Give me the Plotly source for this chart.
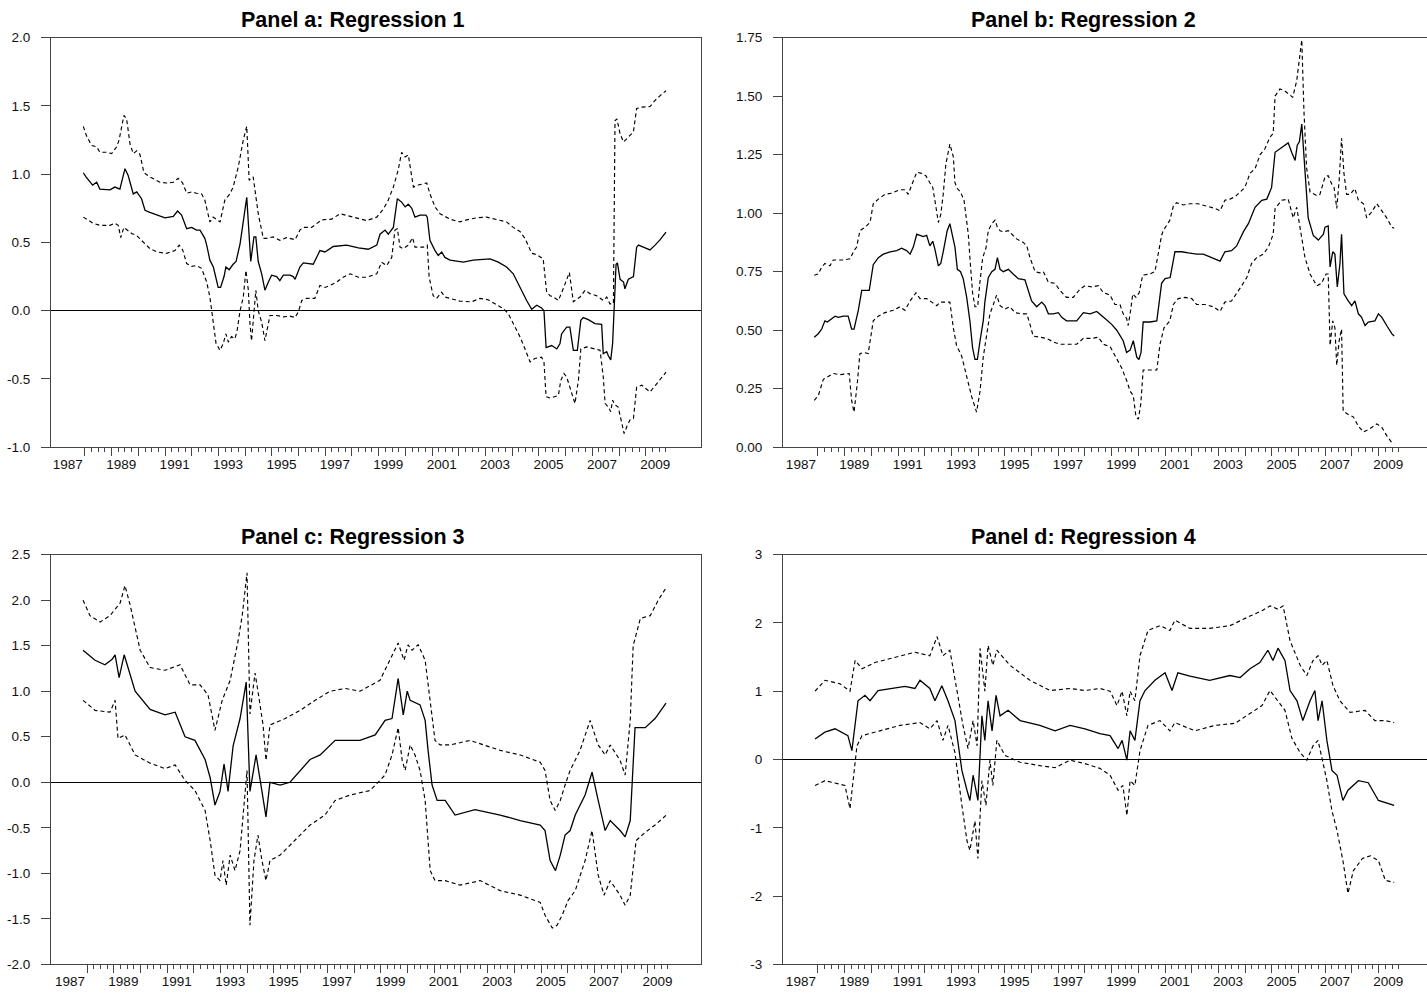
import plotly.graph_objects as go

# ---------------- data (decimal years, coefficient values) ----------------
# Panel a: Regression 1
a_mid_t = [1987.94, 1988.04, 1988.29, 1988.44, 1988.56, 1988.75, 1988.94, 1989.12, 1989.31, 1989.50, 1989.62,
           1989.81, 1989.94, 1990.12, 1990.25, 1990.43, 1990.69, 1991.00, 1991.31, 1991.47, 1991.62, 1991.81,
           1992.00, 1992.18, 1992.31, 1992.49, 1992.56, 1992.68, 1992.81, 1992.99, 1993.08, 1993.21, 1993.28,
           1993.40, 1993.55, 1993.66, 1993.81, 1994.06, 1994.21, 1994.33, 1994.40, 1994.49, 1994.62, 1994.74,
           1994.87, 1994.99, 1995.18, 1995.30, 1995.43, 1995.68, 1995.80, 1995.87, 1996.05, 1996.18, 1996.55,
           1996.80, 1996.99, 1997.30, 1997.80, 1998.24, 1998.61, 1998.93, 1999.05, 1999.24, 1999.36, 1999.55,
           1999.70, 1999.86, 1999.99, 2000.11, 2000.24, 2000.36, 2000.55, 2000.77, 2000.82, 2000.92, 2001.11,
           2001.23, 2001.36, 2001.48, 2001.67, 2002.17, 2002.54, 2003.17, 2003.48, 2003.79, 2004.04, 2004.29,
           2004.54, 2004.73, 2004.92, 2005.10, 2005.19, 2005.27, 2005.48, 2005.67, 2005.79, 2005.85, 2005.94,
           2006.04, 2006.16, 2006.29, 2006.44, 2006.51, 2006.57, 2006.66, 2006.85, 2007.10, 2007.35, 2007.41,
           2007.54, 2007.60, 2007.69, 2007.76, 2007.81, 2007.89, 2007.94, 2008.04, 2008.17, 2008.22, 2008.35,
           2008.54, 2008.66, 2008.73, 2008.91, 2009.16, 2009.35, 2009.54, 2009.76]
a_mid_v = [1.01, 0.98, 0.92, 0.94, 0.89, 0.89, 0.885, 0.905, 0.89, 1.04, 0.99,
           0.855, 0.87, 0.82, 0.735, 0.72, 0.70, 0.68, 0.69, 0.73, 0.70, 0.60,
           0.61, 0.59, 0.59, 0.53, 0.48, 0.37, 0.32, 0.17, 0.17, 0.25, 0.32,
           0.30, 0.34, 0.36, 0.49, 0.83, 0.36, 0.54, 0.54, 0.36, 0.27, 0.15,
           0.21, 0.26, 0.25, 0.22, 0.26, 0.26, 0.25, 0.23, 0.32, 0.35, 0.34,
           0.44, 0.43, 0.47, 0.48, 0.46, 0.45, 0.48, 0.56, 0.59, 0.56, 0.61,
           0.82, 0.795, 0.76, 0.78, 0.75, 0.685, 0.70, 0.70, 0.685, 0.515, 0.44,
           0.405, 0.43, 0.39, 0.37, 0.355, 0.37, 0.38, 0.355, 0.32, 0.27, 0.17,
           0.075, 0.01, 0.04, 0.02, 0.0, -0.27, -0.255, -0.28, -0.24, -0.17, -0.145,
           -0.12, -0.12, -0.29, -0.29, -0.145, -0.07, -0.05, -0.065, -0.095, -0.10, -0.315,
           -0.30, -0.33, -0.36, -0.24, 0.0, 0.34, 0.35, 0.23, 0.21, 0.16, 0.23,
           0.25, 0.465, 0.48, 0.465, 0.445, 0.48, 0.52, 0.575]
a_up_t = [1987.94, 1988.06, 1988.25, 1988.44, 1988.56, 1988.79, 1989.00, 1989.19, 1989.28, 1989.46, 1989.56,
          1989.69, 1989.81, 1989.94, 1990.06, 1990.21, 1990.43, 1990.81, 1991.06, 1991.31, 1991.49, 1991.66,
          1991.81, 1992.00, 1992.18, 1992.37, 1992.49, 1992.68, 1992.80, 1993.06, 1993.24, 1993.43, 1993.55,
          1993.74, 1993.93, 1994.06, 1994.15, 1994.30, 1994.49, 1994.68, 1994.81, 1995.05, 1995.30, 1995.55,
          1995.87, 1996.05, 1996.18, 1996.49, 1996.86, 1997.24, 1997.55, 1998.05, 1998.55, 1998.93, 1999.18,
          1999.36, 1999.55, 1999.73, 1999.86, 1999.99, 2000.11, 2000.30, 2000.48, 2000.80, 2000.92, 2001.11,
          2001.30, 2001.67, 2002.04, 2002.30, 2002.67, 2003.04, 2003.42, 2003.79, 2004.04, 2004.29, 2004.48,
          2004.73, 2004.92, 2005.16, 2005.29, 2005.42, 2005.54, 2005.73, 2005.91, 2006.14, 2006.29, 2006.54,
          2006.73, 2006.91, 2007.16, 2007.41, 2007.54, 2007.66, 2007.79, 2007.85, 2007.92, 2008.04, 2008.17,
          2008.41, 2008.54, 2008.66, 2008.85, 2009.16, 2009.35, 2009.54, 2009.76]
a_up_v = [1.35, 1.28, 1.21, 1.20, 1.16, 1.16, 1.15, 1.20, 1.25, 1.43, 1.405,
          1.22, 1.15, 1.17, 1.145, 1.01, 0.98, 0.94, 0.935, 0.94, 0.97, 0.935,
          0.86, 0.87, 0.86, 0.855, 0.81, 0.65, 0.685, 0.65, 0.81, 0.855, 0.905,
          1.05, 1.25, 1.35, 0.955, 0.98, 0.71, 0.53, 0.53, 0.54, 0.515, 0.535,
          0.52, 0.59, 0.61, 0.61, 0.665, 0.67, 0.71, 0.685, 0.66, 0.685, 0.745,
          0.81, 0.905, 1.03, 1.16, 1.125, 1.14, 0.905, 0.92, 0.935, 0.855, 0.76,
          0.71, 0.67, 0.65, 0.665, 0.68, 0.685, 0.67, 0.65, 0.61, 0.58, 0.53,
          0.42, 0.41, 0.38, 0.135, 0.11, 0.10, 0.075, 0.16, 0.28, 0.065, 0.10,
          0.15, 0.125, 0.11, 0.075, 0.10, 0.05, 0.05, 1.39, 1.405, 1.295, 1.235,
          1.28, 1.31, 1.48, 1.49, 1.495, 1.54, 1.575, 1.61]
a_lo_t = [1987.94, 1988.12, 1988.31, 1988.56, 1988.94, 1989.12, 1989.25, 1989.34, 1989.46, 1989.75, 1989.94,
          1990.12, 1990.43, 1990.69, 1991.06, 1991.37, 1991.53, 1991.66, 1991.81, 1992.00, 1992.18, 1992.37,
          1992.56, 1992.68, 1992.80, 1992.91, 1993.06, 1993.18, 1993.28, 1993.37, 1993.49, 1993.62, 1993.70,
          1993.81, 1993.93, 1994.03, 1994.12, 1994.18, 1994.24, 1994.33, 1994.40, 1994.49, 1994.62, 1994.74,
          1994.81, 1994.93, 1995.18, 1995.43, 1995.68, 1995.87, 1995.99, 1996.12, 1996.30, 1996.61, 1996.80,
          1996.99, 1997.18, 1997.43, 1997.67, 1997.93, 1998.24, 1998.55, 1998.93, 1999.11, 1999.30, 1999.49,
          1999.61, 1999.70, 1999.80, 1999.92, 2000.11, 2000.27, 2000.36, 2000.67, 2000.82, 2000.89, 2001.04,
          2001.17, 2001.36, 2001.48, 2001.67, 2002.04, 2002.48, 2002.79, 2003.10, 2003.42, 2003.67, 2003.85,
          2004.04, 2004.29, 2004.48, 2004.67, 2004.85, 2005.10, 2005.19, 2005.27, 2005.42, 2005.60, 2005.73,
          2005.82, 2005.94, 2006.04, 2006.16, 2006.35, 2006.48, 2006.57, 2006.79, 2007.04, 2007.29, 2007.41,
          2007.48, 2007.60, 2007.69, 2007.76, 2007.85, 2007.97, 2008.10, 2008.19, 2008.29, 2008.41, 2008.54,
          2008.66, 2008.85, 2009.16, 2009.41, 2009.76]
a_lo_v = [0.685, 0.66, 0.64, 0.625, 0.625, 0.64, 0.625, 0.535, 0.61, 0.565, 0.55,
          0.515, 0.455, 0.43, 0.42, 0.44, 0.48, 0.445, 0.345, 0.325, 0.33, 0.31,
          0.21, 0.10, -0.06, -0.24, -0.29, -0.24, -0.17, -0.23, -0.19, -0.205, -0.145,
          0.0, 0.10, 0.295, 0.15, -0.095, -0.22, 0.025, 0.15, 0.0, -0.085, -0.22,
          -0.145, -0.035, -0.035, -0.045, -0.04, -0.05, -0.01, 0.075, 0.09, 0.09, 0.185,
          0.17, 0.185, 0.21, 0.245, 0.27, 0.245, 0.245, 0.27, 0.355, 0.33, 0.39,
          0.59, 0.60, 0.465, 0.455, 0.48, 0.535, 0.465, 0.465, 0.48, 0.245, 0.11,
          0.09, 0.135, 0.10, 0.09, 0.07, 0.065, 0.09, 0.08, 0.04, 0.015, -0.02,
          -0.095, -0.19, -0.28, -0.375, -0.35, -0.34, -0.375, -0.63, -0.64, -0.63, -0.62,
          -0.51, -0.46, -0.485, -0.56, -0.68, -0.51, -0.28, -0.265, -0.28, -0.29, -0.485,
          -0.68, -0.705, -0.74, -0.655, -0.69, -0.705, -0.815, -0.90, -0.85, -0.80, -0.79,
          -0.56, -0.545, -0.595, -0.535, -0.45]

# Panel b: Regression 2
b_mid_t = [1987.86, 1988.01, 1988.14, 1988.26, 1988.35, 1988.51, 1988.64, 1988.76, 1988.95, 1989.13, 1989.26,
           1989.35, 1989.51, 1989.64, 1989.76, 1989.92, 1990.07, 1990.26, 1990.45, 1990.70, 1990.95, 1991.13,
           1991.32, 1991.45, 1991.57, 1991.70, 1991.82, 1991.94, 1992.07, 1992.19, 1992.30, 1992.38, 1992.51,
           1992.60, 1992.69, 1992.84, 1992.94, 1993.13, 1993.22, 1993.34, 1993.44, 1993.57, 1993.69, 1993.79,
           1993.88, 1993.97, 1994.07, 1994.19, 1994.25, 1994.38, 1994.51, 1994.63, 1994.72, 1994.82, 1994.94,
           1995.13, 1995.31, 1995.50, 1995.75, 1995.88, 1996.00, 1996.19, 1996.38, 1996.50, 1996.63, 1996.81,
           1997.00, 1997.13, 1997.31, 1997.69, 1997.94, 1998.19, 1998.44, 1998.75, 1999.00, 1999.19, 1999.43,
           1999.56, 1999.69, 1999.81, 1999.94, 2000.02, 2000.10, 2000.18, 2000.43, 2000.69, 2000.87, 2001.00,
           2001.19, 2001.37, 2001.62, 2001.87, 2002.18, 2002.43, 2002.75, 2003.06, 2003.24, 2003.49, 2003.68,
           2003.93, 2004.12, 2004.37, 2004.62, 2004.81, 2004.99, 2005.12, 2005.37, 2005.49, 2005.61, 2005.74,
           2005.87, 2005.95, 2006.03, 2006.12, 2006.24, 2006.36, 2006.55, 2006.74, 2006.93, 2006.99, 2007.11,
           2007.18, 2007.28, 2007.36, 2007.45, 2007.55, 2007.61, 2007.70, 2007.86, 2007.99, 2008.11, 2008.24,
           2008.36, 2008.49, 2008.61, 2008.86, 2008.99, 2009.12, 2009.30, 2009.49, 2009.58]
b_mid_v = [0.47, 0.485, 0.505, 0.54, 0.535, 0.55, 0.56, 0.555, 0.56, 0.56, 0.505,
           0.505, 0.585, 0.67, 0.67, 0.67, 0.78, 0.81, 0.825, 0.835, 0.84, 0.85,
           0.84, 0.825, 0.855, 0.91, 0.905, 0.90, 0.905, 0.86, 0.88, 0.845, 0.775,
           0.785, 0.835, 0.925, 0.955, 0.855, 0.76, 0.75, 0.72, 0.64, 0.54, 0.425,
           0.375, 0.375, 0.455, 0.54, 0.62, 0.725, 0.75, 0.76, 0.81, 0.76, 0.75,
           0.76, 0.74, 0.72, 0.715, 0.67, 0.625, 0.60, 0.62, 0.605, 0.57, 0.57,
           0.575, 0.555, 0.54, 0.54, 0.575, 0.57, 0.58, 0.55, 0.525, 0.50, 0.455,
           0.405, 0.415, 0.455, 0.385, 0.375, 0.405, 0.535, 0.535, 0.54, 0.70, 0.72,
           0.725, 0.835, 0.835, 0.83, 0.825, 0.825, 0.81, 0.795, 0.835, 0.84, 0.86,
           0.92, 0.955, 1.025, 1.055, 1.06, 1.11, 1.26, 1.28, 1.29, 1.30, 1.26,
           1.225, 1.29, 1.305, 1.38, 1.17, 0.98, 0.905, 0.885, 0.91, 0.94, 0.945,
           0.77, 0.835, 0.825, 0.685, 0.785, 0.91, 0.655, 0.625, 0.605, 0.625, 0.57,
           0.555, 0.52, 0.535, 0.54, 0.57, 0.555, 0.52, 0.485, 0.475]
b_up_t = [1987.86, 1988.01, 1988.14, 1988.26, 1988.45, 1988.57, 1988.95, 1989.20, 1989.35, 1989.45, 1989.57,
          1989.76, 1989.95, 1990.07, 1990.26, 1990.51, 1990.76, 1991.07, 1991.26, 1991.38, 1991.51, 1991.70,
          1991.88, 1992.04, 1992.19, 1992.30, 1992.42, 1992.51, 1992.60, 1992.69, 1992.79, 1992.94, 1993.07,
          1993.13, 1993.22, 1993.34, 1993.47, 1993.54, 1993.63, 1993.69, 1993.79, 1993.88, 1993.98, 1994.07,
          1994.17, 1994.29, 1994.38, 1994.51, 1994.63, 1994.72, 1994.82, 1994.94, 1995.13, 1995.26, 1995.44,
          1995.69, 1995.82, 1995.94, 1996.13, 1996.31, 1996.44, 1996.63, 1996.88, 1997.06, 1997.31, 1997.56,
          1997.81, 1998.00, 1998.25, 1998.50, 1998.69, 1998.94, 1999.12, 1999.31, 1999.43, 1999.56, 1999.62,
          1999.71, 1999.79, 1999.91, 2000.03, 2000.16, 2000.43, 2000.62, 2000.75, 2000.87, 2000.93, 2001.18,
          2001.31, 2001.43, 2001.68, 2001.93, 2002.24, 2002.56, 2002.87, 2003.06, 2003.24, 2003.43, 2003.62,
          2003.81, 2003.99, 2004.18, 2004.37, 2004.56, 2004.74, 2004.93, 2005.05, 2005.12, 2005.30, 2005.45,
          2005.61, 2005.78, 2005.93, 2006.03, 2006.12, 2006.20, 2006.30, 2006.43, 2006.68, 2006.80, 2006.99,
          2007.11, 2007.24, 2007.33, 2007.43, 2007.52, 2007.61, 2007.70, 2007.80, 2007.93, 2008.11, 2008.24,
          2008.43, 2008.55, 2008.74, 2008.93, 2009.12, 2009.30, 2009.49, 2009.58]
b_up_v = [0.735, 0.74, 0.77, 0.785, 0.775, 0.80, 0.80, 0.805, 0.84, 0.855, 0.925,
          0.94, 0.96, 1.04, 1.06, 1.08, 1.085, 1.10, 1.10, 1.08, 1.12, 1.175,
          1.17, 1.16, 1.13, 1.11, 1.025, 0.96, 0.995, 1.08, 1.21, 1.295, 1.24,
          1.13, 1.105, 1.09, 1.055, 0.98, 0.91, 0.81, 0.66, 0.60, 0.60, 0.71,
          0.81, 0.85, 0.925, 0.955, 0.97, 0.94, 0.925, 0.92, 0.925, 0.91, 0.89,
          0.875, 0.86, 0.81, 0.75, 0.745, 0.75, 0.705, 0.70, 0.67, 0.64, 0.64,
          0.675, 0.69, 0.685, 0.69, 0.66, 0.65, 0.61, 0.61, 0.57, 0.55, 0.52,
          0.585, 0.655, 0.64, 0.66, 0.735, 0.74, 0.75, 0.84, 0.905, 0.925, 0.97,
          1.03, 1.045, 1.035, 1.04, 1.04, 1.03, 1.02, 1.01, 1.055, 1.06, 1.07,
          1.09, 1.11, 1.17, 1.19, 1.25, 1.275, 1.325, 1.34, 1.50, 1.53, 1.525,
          1.51, 1.495, 1.565, 1.65, 1.74, 1.44, 1.195, 1.09, 1.075, 1.08, 1.155,
          1.16, 1.125, 1.11, 1.02, 1.14, 1.32, 1.17, 1.08, 1.08, 1.105, 1.055,
          1.04, 0.98, 1.005, 1.04, 1.01, 0.98, 0.94, 0.935]
b_lo_t = [1987.86, 1988.01, 1988.20, 1988.35, 1988.57, 1988.82, 1989.07, 1989.17, 1989.26, 1989.35, 1989.47,
          1989.57, 1989.72, 1989.88, 1990.07, 1990.26, 1990.51, 1990.82, 1991.07, 1991.26, 1991.45, 1991.67,
          1991.82, 1992.07, 1992.26, 1992.45, 1992.57, 1992.76, 1992.94, 1993.07, 1993.19, 1993.38, 1993.57,
          1993.76, 1993.94, 1994.07, 1994.19, 1994.34, 1994.44, 1994.57, 1994.69, 1994.82, 1995.00, 1995.19,
          1995.38, 1995.63, 1995.82, 1995.94, 1996.06, 1996.31, 1996.57, 1996.81, 1997.06, 1997.44, 1997.69,
          1997.94, 1998.25, 1998.50, 1998.69, 1998.94, 1999.12, 1999.37, 1999.56, 1999.69, 1999.81, 1999.91,
          2000.00, 2000.09, 2000.18, 2000.43, 2000.69, 2000.81, 2000.96, 2001.18, 2001.31, 2001.49, 2001.75,
          2002.00, 2002.18, 2002.49, 2002.81, 2003.06, 2003.24, 2003.49, 2003.68, 2003.87, 2004.06, 2004.24,
          2004.43, 2004.68, 2004.87, 2005.05, 2005.12, 2005.37, 2005.61, 2005.80, 2005.93, 2006.12, 2006.24,
          2006.43, 2006.68, 2006.86, 2007.03, 2007.11, 2007.18, 2007.28, 2007.36, 2007.43, 2007.52, 2007.61,
          2007.67, 2007.86, 2008.05, 2008.24, 2008.43, 2008.68, 2008.93, 2009.12, 2009.30, 2009.49, 2009.58]
b_lo_v = [0.20, 0.22, 0.29, 0.30, 0.315, 0.31, 0.315, 0.315, 0.20, 0.15, 0.27,
          0.40, 0.405, 0.40, 0.54, 0.56, 0.575, 0.585, 0.60, 0.585, 0.625, 0.66,
          0.635, 0.635, 0.62, 0.605, 0.62, 0.62, 0.62, 0.51, 0.435, 0.39, 0.30,
          0.215, 0.15, 0.24, 0.385, 0.50, 0.57, 0.61, 0.65, 0.605, 0.59, 0.60,
          0.575, 0.57, 0.57, 0.525, 0.475, 0.47, 0.465, 0.45, 0.44, 0.44, 0.44,
          0.465, 0.465, 0.47, 0.44, 0.43, 0.39, 0.34, 0.285, 0.24, 0.22, 0.13,
          0.12, 0.185, 0.33, 0.33, 0.33, 0.44, 0.51, 0.54, 0.61, 0.635, 0.64,
          0.635, 0.61, 0.61, 0.60, 0.58, 0.62, 0.625, 0.655, 0.69, 0.725, 0.785,
          0.81, 0.825, 0.855, 0.91, 1.02, 1.055, 1.06, 0.98, 1.025, 0.90, 0.81,
          0.74, 0.69, 0.70, 0.74, 0.74, 0.435, 0.54, 0.51, 0.35, 0.455, 0.505,
          0.155, 0.14, 0.13, 0.09, 0.065, 0.08, 0.10, 0.085, 0.05, 0.02, 0.015]

# Panel c: Regression 3
c_mid_t = [1987.85, 1988.30, 1988.67, 1988.94, 1989.05, 1989.20, 1989.39, 1989.80, 1990.36, 1990.92, 1991.30,
           1991.67, 1992.04, 1992.42, 1992.61, 1992.79, 1992.98, 1993.13, 1993.28, 1993.47, 1993.73, 1993.96,
           1994.10, 1994.33, 1994.55, 1994.70, 1994.85, 1995.23, 1995.60, 1995.98, 1996.35, 1996.73, 1997.29,
           1998.22, 1998.79, 1999.16, 1999.42, 1999.65, 1999.84, 1999.99, 2000.10, 2000.47, 2000.66, 2000.77,
           2000.92, 2001.11, 2001.41, 2001.78, 2002.53, 2003.47, 2004.22, 2004.97, 2005.15, 2005.34, 2005.54,
           2005.72, 2005.90, 2006.09, 2006.28, 2006.65, 2006.91, 2007.14, 2007.40, 2007.59, 2007.96, 2008.15,
           2008.34, 2008.52, 2008.90, 2009.27, 2009.68]
c_mid_v = [1.45, 1.34, 1.29, 1.35, 1.40, 1.15, 1.40, 1.0, 0.8, 0.74, 0.77,
           0.5, 0.46, 0.25, 0.05, -0.25, -0.1, 0.2, -0.1, 0.4, 0.7, 1.1,
           -0.1, 0.3, -0.1, -0.38, 0.0, -0.03, 0.0, 0.13, 0.25, 0.3, 0.46,
           0.46, 0.52, 0.68, 0.7, 1.14, 0.74, 1.0, 0.9, 0.85, 0.68, 0.35,
           -0.03, -0.2, -0.2, -0.36, -0.3, -0.36, -0.42, -0.47, -0.53, -0.86, -0.97,
           -0.8, -0.58, -0.53, -0.36, -0.14, 0.11, -0.2, -0.53, -0.42, -0.53, -0.6,
           -0.42, 0.6, 0.6, 0.7, 0.87]
c_up_t = [1987.85, 1988.11, 1988.49, 1988.86, 1989.24, 1989.42, 1989.61, 1989.99, 1990.36, 1990.92, 1991.48,
          1991.86, 1992.23, 1992.53, 1992.79, 1993.06, 1993.36, 1993.66, 1993.81, 1993.99, 1994.10, 1994.29,
          1994.40, 1994.59, 1994.70, 1994.85, 1995.42, 1995.98, 1996.54, 1997.10, 1997.66, 1998.22, 1998.97,
          1999.35, 1999.65, 1999.87, 2000.02, 2000.17, 2000.40, 2000.66, 2000.85, 2001.03, 2001.22, 2001.60,
          2002.34, 2003.47, 2004.22, 2004.97, 2005.15, 2005.34, 2005.53, 2005.72, 2005.90, 2006.09, 2006.46,
          2006.84, 2007.14, 2007.40, 2007.59, 2007.96, 2008.15, 2008.34, 2008.45, 2008.72, 2009.09, 2009.39,
          2009.69]
c_up_v = [2.0, 1.83, 1.76, 1.83, 1.97, 2.16, 1.95, 1.45, 1.26, 1.23, 1.29,
          1.07, 1.07, 0.96, 0.57, 0.9, 1.12, 1.56, 1.83, 2.3, 0.75, 1.2,
          1.0, 0.63, 0.24, 0.63, 0.7, 0.79, 0.9, 1.0, 1.03, 1.0, 1.12,
          1.34, 1.53, 1.34, 1.51, 1.45, 1.51, 1.34, 0.9, 0.46, 0.41, 0.41,
          0.46, 0.35, 0.3, 0.22, 0.13, -0.2, -0.31, -0.2, -0.03, 0.13, 0.35,
          0.68, 0.41, 0.3, 0.41, 0.24, 0.08, 0.68, 1.5, 1.8, 1.83, 2.0,
          2.14]
c_lo_t = [1987.85, 1988.30, 1988.86, 1989.05, 1989.16, 1989.42, 1989.80, 1990.36, 1990.92, 1991.30, 1991.67,
          1992.04, 1992.42, 1992.61, 1992.79, 1992.98, 1993.09, 1993.21, 1993.36, 1993.54, 1993.73, 1993.88,
          1993.99, 1994.10, 1994.25, 1994.40, 1994.55, 1994.70, 1994.85, 1995.23, 1995.79, 1996.35, 1996.91,
          1997.29, 1997.85, 1998.60, 1999.16, 1999.42, 1999.65, 1999.80, 1999.91, 2000.10, 2000.28, 2000.47,
          2000.66, 2000.85, 2001.03, 2001.41, 2001.97, 2002.72, 2003.47, 2004.22, 2004.97, 2005.15, 2005.42,
          2005.60, 2005.79, 2006.01, 2006.28, 2006.65, 2006.91, 2007.14, 2007.36, 2007.59, 2007.96, 2008.15,
          2008.34, 2008.56, 2008.90, 2009.27, 2009.69]
c_lo_v = [0.9, 0.79, 0.77, 0.9, 0.48, 0.52, 0.3, 0.21, 0.15, 0.19, 0.02,
          -0.09, -0.31, -0.64, -1.02, -1.08, -0.86, -1.13, -0.8, -0.97, -0.75, -0.25,
          0.13, -1.57, -0.86, -0.58, -0.86, -1.08, -0.86, -0.8, -0.64, -0.47, -0.36,
          -0.2, -0.14, -0.09, 0.08, 0.3, 0.6, 0.24, 0.13, 0.41, 0.3, 0.13,
          -0.2, -0.97, -1.08, -1.08, -1.13, -1.08, -1.19, -1.24, -1.32, -1.46, -1.6,
          -1.57, -1.46, -1.3, -1.19, -0.86, -0.53, -1.02, -1.24, -1.08, -1.24, -1.35,
          -1.24, -0.64, -0.55, -0.47, -0.36]

# Panel d: Regression 4
d_mid_t = [1987.89, 1988.26, 1988.64, 1989.12, 1989.27, 1989.50, 1989.76, 1989.95, 1990.25, 1990.70, 1991.26,
           1991.63, 1991.82, 1992.19, 1992.38, 1992.64, 1992.87, 1993.13, 1993.39, 1993.58, 1993.69, 1993.81,
           1993.99, 1994.14, 1994.25, 1994.37, 1994.52, 1994.67, 1994.82, 1995.12, 1995.57, 1996.31, 1996.88,
           1997.44, 1998.00, 1998.56, 1998.94, 1999.24, 1999.39, 1999.57, 1999.69, 1999.87, 2000.06, 2000.25,
           2000.62, 2001.00, 2001.26, 2001.48, 2001.93, 2002.67, 2003.43, 2003.81, 2004.18, 2004.55, 2004.85,
           2005.04, 2005.23, 2005.49, 2005.68, 2005.94, 2006.16, 2006.43, 2006.61, 2006.73, 2006.88, 2007.06,
           2007.25, 2007.44, 2007.66, 2007.85, 2008.24, 2008.61, 2008.99, 2009.58]
d_mid_v = [0.3, 0.4, 0.45, 0.35, 0.13, 0.86, 0.94, 0.86, 1.01, 1.04, 1.07,
           1.04, 1.16, 1.04, 0.86, 1.08, 0.86, 0.57, -0.16, -0.45, -0.6, -0.23,
           -0.6, 0.64, 0.28, 0.86, 0.42, 0.94, 0.64, 0.72, 0.57, 0.5, 0.42,
           0.5, 0.45, 0.38, 0.35, 0.16, 0.28, -0.01, 0.42, 0.28, 0.86, 1.01,
           1.16, 1.27, 1.01, 1.27, 1.22, 1.16, 1.23, 1.2, 1.33, 1.42, 1.6,
           1.45, 1.63, 1.45, 1.01, 0.86, 0.57, 0.86, 1.01, 0.57, 0.86, 0.28,
           -0.16, -0.23, -0.6, -0.45, -0.31, -0.34, -0.6, -0.67]
d_up_t = [1987.89, 1988.26, 1988.82, 1989.20, 1989.39, 1989.65, 1990.13, 1990.88, 1991.63, 1992.19, 1992.46,
          1992.68, 1992.94, 1993.21, 1993.43, 1993.62, 1993.81, 1993.96, 1994.07, 1994.25, 1994.37, 1994.55,
          1994.70, 1995.19, 1995.94, 1996.69, 1997.44, 1998.00, 1998.56, 1998.94, 1999.20, 1999.39, 1999.57,
          1999.69, 1999.87, 2000.06, 2000.36, 2000.81, 2001.18, 2001.37, 2001.93, 2002.67, 2003.43, 2004.18,
          2004.63, 2004.93, 2005.23, 2005.42, 2005.68, 2006.06, 2006.31, 2006.54, 2006.73, 2006.88, 2007.06,
          2007.29, 2007.55, 2007.93, 2008.49, 2008.86, 2009.24, 2009.58]
d_up_v = [1.0, 1.16, 1.11, 1.0, 1.45, 1.33, 1.42, 1.49, 1.57, 1.52, 1.8,
          1.52, 1.6, 1.0, 0.5, 0.16, 0.57, 0.2, 1.63, 1.0, 1.67, 1.38,
          1.6, 1.38, 1.16, 1.01, 1.04, 1.01, 1.04, 1.0, 0.79, 1.0, 0.64,
          1.0, 0.86, 1.52, 1.89, 1.96, 1.89, 2.04, 1.92, 1.92, 1.96, 2.1,
          2.18, 2.25, 2.2, 2.25, 1.74, 1.38, 1.23, 1.45, 1.52, 1.38, 1.45,
          1.08, 0.86, 0.69, 0.72, 0.57, 0.57, 0.54]
d_lo_t = [1987.89, 1988.26, 1989.01, 1989.20, 1989.46, 1989.65, 1990.32, 1991.07, 1991.82, 1992.19, 1992.46,
          1992.68, 1992.87, 1993.13, 1993.39, 1993.58, 1993.69, 1993.88, 1993.99, 1994.14, 1994.29, 1994.44,
          1994.55, 1994.70, 1995.00, 1995.57, 1996.31, 1996.88, 1997.44, 1998.00, 1998.56, 1998.94, 1999.24,
          1999.42, 1999.57, 1999.69, 1999.87, 2000.06, 2000.36, 2000.81, 2001.18, 2001.37, 2002.12, 2002.87,
          2003.62, 2004.18, 2004.63, 2004.93, 2005.23, 2005.49, 2005.75, 2006.06, 2006.31, 2006.54, 2006.73,
          2006.88, 2007.06, 2007.25, 2007.44, 2007.66, 2007.85, 2008.05, 2008.39, 2008.69, 2008.99, 2009.25,
          2009.58]
d_lo_v = [-0.38, -0.31, -0.38, -0.72, 0.2, 0.35, 0.42, 0.5, 0.54, 0.45, 0.57,
          0.28, 0.5, 0.1, -0.67, -1.19, -1.33, -0.9, -1.45, -0.31, -0.67, -0.01,
          -0.38, 0.28, 0.06, -0.04, -0.09, -0.12, -0.01, -0.06, -0.13, -0.23, -0.45,
          -0.38, -0.82, -0.31, -0.38, 0.13, 0.5, 0.57, 0.42, 0.54, 0.42, 0.5,
          0.53, 0.67, 0.79, 1.01, 0.86, 0.72, 0.31, 0.1, -0.01, 0.2, 0.28,
          -0.01, -0.31, -0.75, -1.04, -1.48, -1.96, -1.63, -1.45, -1.41, -1.48, -1.77,
          -1.8]

# axis tick labels
year_labels = ["1987", "1989", "1991", "1993", "1995", "1997", "1999", "2001", "2003", "2005", "2007", "2009"]
a_yticks = [-1.0, -0.5, 0.0, 0.5, 1.0, 1.5, 2.0]
a_ytext = ["-1.0", "-0.5", "0.0", "0.5", "1.0", "1.5", "2.0"]
b_yticks = [0.0, 0.25, 0.5, 0.75, 1.0, 1.25, 1.5, 1.75]
b_ytext = ["0.00", "0.25", "0.50", "0.75", "1.00", "1.25", "1.50", "1.75"]
c_yticks = [-2.0, -1.5, -1.0, -0.5, 0.0, 0.5, 1.0, 1.5, 2.0, 2.5]
c_ytext = ["-2.0", "-1.5", "-1.0", "-0.5", "0.0", "0.5", "1.0", "1.5", "2.0", "2.5"]
d_yticks = [-3, -2, -1, 0, 1, 2, 3]
d_ytext = ["-3", "-2", "-1", "0", "1", "2", "3"]
titles = ["Panel a: Regression 1", "Panel b: Regression 2", "Panel c: Regression 3", "Panel d: Regression 4"]

# ---------------- layout helpers ----------------
W, H = 1427, 997
TICKFONT = dict(family="Liberation Sans, Arial, sans-serif", size=13.5, color="#111")
LINEC = "#444"

year_starts = list(range(1988, 2010))
quarters = [y + q for y in range(1988, 2010) for q in (0.25, 0.5, 0.75)]
label_pos = [int(s) + 0.36 for s in year_labels]

# pixel boxes: (left, right, top, bottom)
boxes = [(51, 701, 31, 447), (783, 1427, 31, 447), (51, 701, 556, 972), (783, 1427, 556, 972)]
xranges = [[1986.73, 2011.07], [1986.69, 2010.81], [1986.65, 2010.99], [1986.69, 2010.81]]
yranges = [[-1, 2], [0, 1.75], [-2, 2.5], [-3, 3]]
yticks = [(a_yticks, a_ytext), (b_yticks, b_ytext), (c_yticks, c_ytext), (d_yticks, d_ytext)]
series = [
    [(a_mid_t, a_mid_v), (a_up_t, a_up_v), (a_lo_t, a_lo_v)],
    [(b_mid_t, b_mid_v), (b_up_t, b_up_v), (b_lo_t, b_lo_v)],
    [(c_mid_t, c_mid_v), (c_up_t, c_up_v), (c_lo_t, c_lo_v)],
    [(d_mid_t, d_mid_v), (d_up_t, d_up_v), (d_lo_t, d_lo_v)],
]
title_centers = [(352, 13), (1083, 13), (352, 538), (1083, 538)]

fig = go.Figure()
layout = dict(width=W, height=H, margin=dict(l=0, r=0, t=0, b=0), paper_bgcolor="white",
              plot_bgcolor="white", showlegend=False, annotations=[])

for i in range(4):
    n = i + 1
    xs = "" if n == 1 else str(n)
    lx = str(n + 4)
    left, right, top, bottom = boxes[i]
    dom_x = [left / W, right / W]
    dom_y = [1 - bottom / H, 1 - top / H]
    full = i in (0, 2)
    for k, (t, v) in enumerate(series[i]):
        fig.add_trace(go.Scatter(
            x=t, y=v, mode="lines", xaxis="x" + xs, yaxis="y" + xs, hoverinfo="skip",
            line=dict(color="black", width=1.3 if k == 0 else 1.15, dash="solid" if k == 0 else "4px,3px")))
    # invisible trace for the label axis
    fig.add_trace(go.Scatter(x=[], y=[], xaxis="x" + lx, yaxis="y" + xs, hoverinfo="skip"))
    layout["xaxis" + xs] = dict(
        domain=dom_x, range=xranges[i], anchor="y" + xs, showgrid=False, zeroline=False,
        showline=True, linecolor=LINEC, linewidth=1, mirror=True,
        tickmode="array", tickvals=quarters, ticks="outside", ticklen=4, tickcolor=LINEC,
        showticklabels=False,
        minor=dict(tickmode="array", tickvals=year_starts, ticks="outside", ticklen=8,
                   tickcolor=LINEC, showgrid=False))
    layout["xaxis" + lx] = dict(
        overlaying="x" + xs, anchor="y" + xs, side="bottom", range=xranges[i],
        showgrid=False, zeroline=False, showline=False, ticks="",
        tickmode="array", tickvals=label_pos, ticktext=year_labels, tickfont=TICKFONT,
        ticklabelstandoff=7)
    tv, tt = yticks[i]
    layout["yaxis" + xs] = dict(
        domain=dom_y, range=yranges[i], anchor="x" + xs, showgrid=False,
        zeroline=(yranges[i][0] < 0), zerolinecolor="black", zerolinewidth=1,
        showline=True, linecolor=LINEC, linewidth=1, mirror=full,
        tickmode="array", tickvals=tv, ticktext=tt, ticks="outside", ticklen=9,
        tickcolor=LINEC, tickfont=TICKFONT, ticklabelstandoff=8)
    cx, cy = title_centers[i]
    layout["annotations"].append(dict(
        text="<b>" + titles[i] + "</b>", xref="paper", yref="paper", x=cx / W, y=1 - cy / H,
        xanchor="center", yanchor="middle", showarrow=False,
        font=dict(family="Liberation Sans, Arial, sans-serif", size=21.5, color="black")))

fig.update_layout(**layout)
fig.write_html("out.html")
